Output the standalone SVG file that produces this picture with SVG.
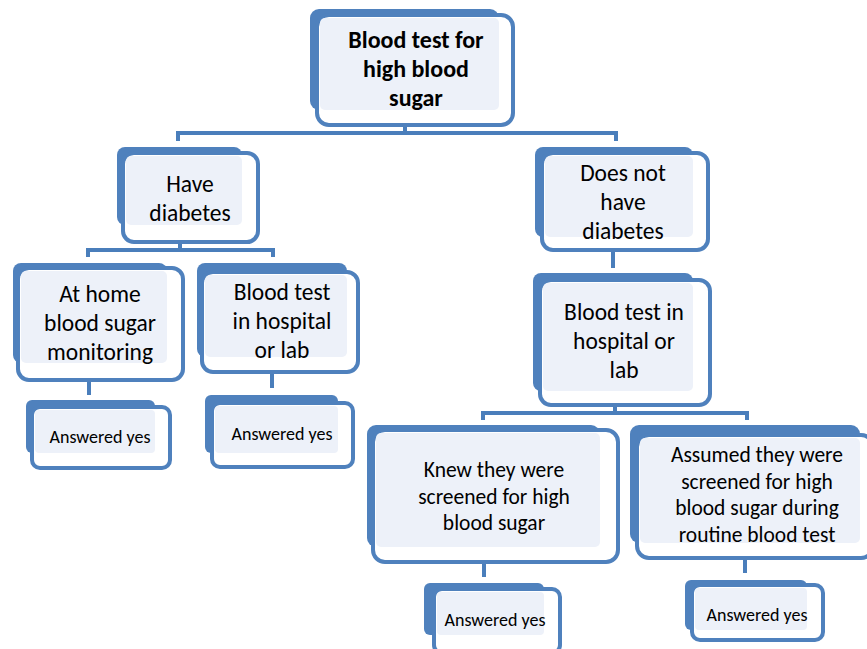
<svg xmlns="http://www.w3.org/2000/svg" width="867" height="649" viewBox="0 0 867 649">
<style>
.back{fill:#4F81BD}
.frame{fill:#FFFFFF;stroke:#4F81BD;stroke-width:4}
.light{fill:#EDF1F9}
.conn{fill:none;stroke:#4A7EBB;stroke-width:4}
text{font-family:Carlito,Calibri,Lato,"Open Sans",sans-serif;fill:#000;text-anchor:middle}
.t{font-size:23.5px}
.m{font-size:21.5px}
.b{font-size:24px;font-weight:bold}
.s{font-size:18px}
</style>
<rect width="867" height="649" fill="#FFFFFF"/>
<g id="connectors">
<path class="conn" d="M405,125V133M178,141V133H616V141"/>
<path class="conn" d="M180,242V250M88,257V250H273V257"/>
<path class="conn" d="M89,380V395"/>
<path class="conn" d="M272,372V388"/>
<path class="conn" d="M613,250V268"/>
<path class="conn" d="M615,405V413M483,420V413H747V420"/>
<path class="conn" d="M484,562V577"/>
<path class="conn" d="M745,558V573"/>
</g>
<g id="root">
<rect class="back" x="310" y="9" width="189" height="101" rx="9"/>
<rect class="frame" x="317" y="15" width="196" height="110" rx="12"/>
<rect class="light" x="320" y="18" width="179" height="92" rx="5"/>
<text class="b" x="416" y="48">Blood test for</text>
<text class="b" x="416" y="77">high blood</text>
<text class="b" x="416" y="106">sugar</text>
</g>
<g id="have">
<rect class="back" x="117" y="147" width="125" height="78" rx="8"/>
<rect class="frame" x="123" y="153" width="135" height="89" rx="11"/>
<rect class="light" x="126" y="156" width="116" height="69" rx="5"/>
<text class="t" x="190" y="192">Have</text>
<text class="t" x="190" y="221">diabetes</text>
</g>
<g id="athome">
<rect class="back" x="13" y="263" width="154" height="100" rx="8"/>
<rect class="frame" x="18" y="268" width="165" height="112" rx="11"/>
<rect class="light" x="21" y="271" width="146" height="92" rx="5"/>
<text class="t" x="100" y="302">At home</text>
<text class="t" x="100" y="331">blood sugar</text>
<text class="t" x="100" y="360">monitoring</text>
</g>
<g id="btleft">
<rect class="back" x="197" y="263" width="150" height="94" rx="8"/>
<rect class="frame" x="202" y="272" width="156" height="100" rx="11"/>
<rect class="light" x="205" y="275" width="142" height="82" rx="5"/>
<text class="t" x="282" y="300">Blood test</text>
<text class="t" x="282" y="329">in hospital</text>
<text class="t" x="282" y="358">or lab</text>
</g>
<g id="ay1">
<rect class="back" x="26" y="400" width="129" height="53" rx="6"/>
<rect class="frame" x="32" y="407" width="138" height="61" rx="8"/>
<rect class="light" x="35" y="410" width="120" height="43" rx="4"/>
<text class="s" x="100" y="443">Answered yes</text>
</g>
<g id="ay2">
<rect class="back" x="205" y="395" width="133" height="58" rx="6"/>
<rect class="frame" x="212" y="403" width="141" height="64" rx="8"/>
<rect class="light" x="215" y="406" width="123" height="47" rx="4"/>
<text class="s" x="282" y="440">Answered yes</text>
</g>
<g id="doesnot">
<rect class="back" x="535" y="147" width="158" height="90" rx="8"/>
<rect class="frame" x="542" y="153" width="166" height="97" rx="11"/>
<rect class="light" x="545" y="156" width="148" height="81" rx="5"/>
<text class="t" x="623" y="181">Does not</text>
<text class="t" x="623" y="210">have</text>
<text class="t" x="623" y="239">diabetes</text>
</g>
<g id="btright">
<rect class="back" x="533" y="273" width="160" height="118" rx="8"/>
<rect class="frame" x="540" y="280" width="170" height="125" rx="11"/>
<rect class="light" x="543" y="283" width="150" height="108" rx="5"/>
<text class="t" x="624" y="320">Blood test in</text>
<text class="t" x="624" y="349">hospital or</text>
<text class="t" x="624" y="378">lab</text>
</g>
<g id="knew">
<rect class="back" x="367" y="425" width="233" height="122" rx="9"/>
<rect class="frame" x="373" y="430" width="245" height="132" rx="12"/>
<rect class="light" x="376" y="433" width="224" height="114" rx="5"/>
<text class="m" x="494" y="477">Knew they were</text>
<text class="m" x="494" y="503.5">screened for high</text>
<text class="m" x="494" y="530">blood sugar</text>
</g>
<g id="assumed">
<rect class="back" x="630" y="425" width="230" height="118" rx="9"/>
<rect class="frame" x="637" y="435" width="236" height="123" rx="12"/>
<rect class="light" x="640" y="438" width="220" height="105" rx="5"/>
<text class="m" x="757" y="462">Assumed they were</text>
<text class="m" x="757" y="488.5">screened for high</text>
<text class="m" x="757" y="515">blood sugar during</text>
<text class="m" x="757" y="541.5">routine blood test</text>
</g>
<g id="ay3">
<rect class="back" x="424" y="583" width="120" height="52" rx="6"/>
<rect class="frame" x="434" y="589" width="126" height="64" rx="8"/>
<rect class="light" x="437" y="592" width="107" height="43" rx="4"/>
<text class="s" x="495" y="626">Answered yes</text>
</g>
<g id="ay4">
<rect class="back" x="685" y="580" width="122" height="50" rx="6"/>
<rect class="frame" x="692" y="585" width="131" height="55" rx="8"/>
<rect class="light" x="695" y="588" width="112" height="42" rx="4"/>
<text class="s" x="757" y="621">Answered yes</text>
</g>
</svg>
